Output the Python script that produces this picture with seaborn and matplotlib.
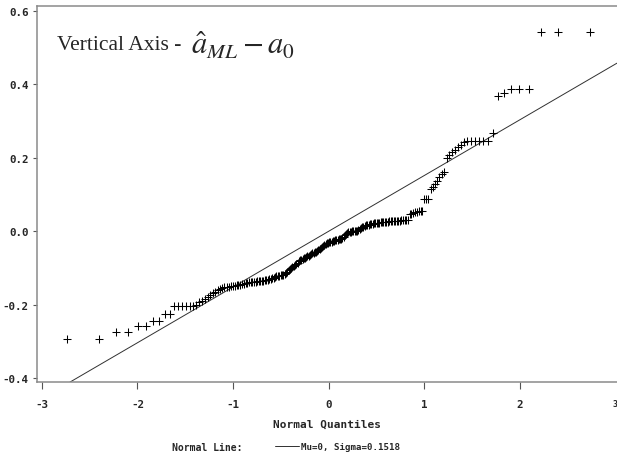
import statistics
import matplotlib
matplotlib.use('Agg')
import matplotlib.pyplot as plt
import pandas as pd
import seaborn as sns

# ==================== data ====================
# sorted differences a_ML - a0, n = 200
resid = [
    -0.292, -0.292, -0.274, -0.274, -0.258, -0.258, -0.244, -0.244, -0.225, -0.225,
    -0.203, -0.203, -0.203, -0.203, -0.203, -0.203, -0.200, -0.193, -0.190, -0.184,
    -0.179, -0.174, -0.169, -0.164, -0.160, -0.157, -0.155, -0.153, -0.152, -0.151,
    -0.150, -0.149, -0.148, -0.147, -0.146, -0.145, -0.144, -0.143, -0.141, -0.140,
    -0.139, -0.139, -0.138, -0.138, -0.137, -0.136, -0.136, -0.135, -0.134, -0.134,
    -0.133, -0.133, -0.132, -0.131, -0.130, -0.128, -0.126, -0.125, -0.123, -0.122,
    -0.121, -0.120, -0.119, -0.118, -0.116, -0.113, -0.110, -0.106, -0.103, -0.100,
    -0.097, -0.094, -0.091, -0.088, -0.085, -0.082, -0.079, -0.077, -0.075, -0.074,
    -0.072, -0.070, -0.068, -0.066, -0.064, -0.062, -0.060, -0.059, -0.057, -0.055,
    -0.053, -0.051, -0.049, -0.046, -0.043, -0.040, -0.037, -0.035, -0.033, -0.031,
    -0.030, -0.029, -0.028, -0.027, -0.026, -0.025, -0.024, -0.023, -0.022, -0.021,
    -0.020, -0.018, -0.015, -0.011, -0.007, -0.004, -0.003, -0.002, -0.001, 0.000,
    0.000, 0.001, 0.001, 0.002, 0.003, 0.005, 0.008, 0.011, 0.013, 0.015,
    0.016, 0.017, 0.018, 0.019, 0.020, 0.021, 0.022, 0.023, 0.023, 0.024,
    0.024, 0.025, 0.025, 0.025, 0.026, 0.026, 0.026, 0.027, 0.027, 0.027,
    0.028, 0.028, 0.028, 0.029, 0.029, 0.030, 0.030, 0.031, 0.031, 0.032,
    0.047, 0.048, 0.050, 0.052, 0.053, 0.054, 0.055, 0.056, 0.088, 0.088,
    0.088, 0.115, 0.122, 0.130, 0.138, 0.147, 0.155, 0.162, 0.200, 0.207,
    0.215, 0.222, 0.229, 0.236, 0.242, 0.247, 0.247, 0.247, 0.247, 0.247,
    0.247, 0.268, 0.368, 0.376, 0.388, 0.388, 0.388, 0.542, 0.542, 0.542,
]
mu = 0
sigma = 0.1518
x_ticks = [-3, -2, -1, 0, 1, 2, 3]
y_ticks = [-0.4, -0.2, 0.0, 0.2, 0.4, 0.6]

# normal quantiles (Blom positions, as SAS QQPLOT)
n = len(resid)
nd = statistics.NormalDist()
quant = [nd.inv_cdf((i - 0.375) / (n + 0.25)) for i in range(1, n + 1)]
df = pd.DataFrame({'q': quant, 'r': sorted(resid)})

# ==================== style ====================
sns.set_style('ticks')
plt.rcParams['font.family'] = ['DejaVu Sans Mono']
plt.rcParams['mathtext.fontset'] = 'stix'

fig = plt.figure(figsize=(6.17, 4.56), dpi=100)
ax = fig.add_axes([0.0595, 0.160, 0.9405, 0.824])

sns.scatterplot(data=df, x='q', y='r', marker='+', color='black',
                s=32, linewidth=0.75, ax=ax, zorder=3)
ax.axline((0, mu), slope=sigma, color='#303030', lw=0.7,
          label=f'Mu={mu}, Sigma={sigma}')

ax.set_xlim(-3.054, 3.018)
ax.set_ylim(-0.4106, 0.613)
ax.set_xticks(x_ticks)
ax.set_xticklabels([str(t) for t in x_ticks])
ax.set_yticks(y_ticks)
ax.set_yticklabels([f'{t:.1f}' for t in y_ticks])

grey = '#8a8a8a'
for side in ['left', 'top', 'bottom']:
    ax.spines[side].set_visible(True)
    ax.spines[side].set_color(grey)
    ax.spines[side].set_linewidth(1.1)
ax.spines['right'].set_visible(False)

ax.tick_params(axis='x', length=5, width=0.8, pad=7, labelsize=7.8, color='#555555')
ax.tick_params(axis='y', length=3, width=0.8, pad=3, labelsize=7.8, color='#555555')
for lbl in ax.get_xticklabels() + ax.get_yticklabels():
    lbl.set_fontweight('bold')
# last tick only has its label
xt = ax.xaxis.get_major_ticks()
xt[-1].tick1line.set_visible(False)
xt[-1].label1.set_fontsize(6)

ax.set_xlabel('Normal Quantiles', fontsize=8, fontweight='bold', labelpad=7.5)
ax.set_ylabel('')

# title inside the plot
fig.text(0.093, 0.890, 'Vertical Axis - ', family='Liberation Serif',
         fontsize=15.5, va='baseline', ha='left')
fig.text(0.309, 0.879, r'$\hat{a}_{ML} - a_0$', fontsize=22, va='baseline', ha='left')

# legend row
fig.text(0.278, 0.018, 'Normal Line:', fontsize=7, fontweight='bold', va='center', ha='left')
leg = ax.legend(loc='center left', bbox_to_anchor=(0.4457, 0.018),
                bbox_transform=fig.transFigure, frameon=False, borderpad=0,
                borderaxespad=0, handlelength=2.6, handletextpad=0.2,
                prop={'size': 6.6, 'weight': 'bold'})

plt.savefig('out.png', dpi=100)
